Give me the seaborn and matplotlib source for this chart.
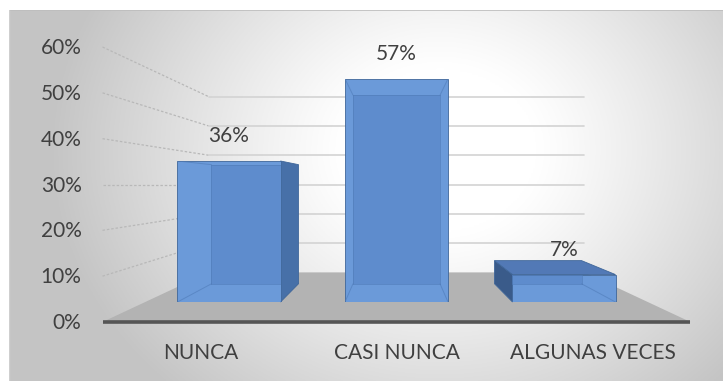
import numpy as np
import pandas as pd
import seaborn as sns
import matplotlib
matplotlib.use("Agg")
import matplotlib.pyplot as plt
from matplotlib.patches import Polygon
from matplotlib.transforms import IdentityTransform

# ---- data -------------------------------------------------------------
categories = ["NUNCA", "CASI NUNCA", "ALGUNAS VECES"]
values = [0.36, 0.57, 0.07]
value_labels = ["36%", "57%", "7%"]
y_ticks = [0.0, 0.1, 0.2, 0.3, 0.4, 0.5, 0.6]
y_tick_labels = ["0%", "10%", "20%", "30%", "40%", "50%", "60%"]

df = pd.DataFrame({"categoria": categories, "valor": values})

# ---- style ------------------------------------------------------------
sns.set_theme(style="white")
plt.rcParams["font.family"] = ["Lato", "DejaVu Sans"]

W, H, DPI = 723, 381, 100
TEXT = "#404040"
FRONT = "#6B9AD9"        # bar front face
BACK_TINT = "#5482C4"    # back face seen through the front
SIDE = "#4770A8"
SIDE_DARK = "#3A5B8A"
TOP = "#5279B6"
EDGE = "#3F6699"
FLOOR = "#B3B3B3"
GRID = "#D3D3D3"

# perspective depths (1 = bar front plane)
S_FLOOR = 1.17   # front edge of the floor / axis labels
S_BACK = 0.845   # back faces of the bars
S_WALL = 0.748   # back wall


fig = plt.figure(figsize=(W / DPI, H / DPI), dpi=DPI)
fig.patch.set_facecolor("white")

# chart area background with a soft radial gradient
bg = fig.add_axes([9 / W, 0, (W - 9) / W, (H - 10) / H])
bg.set_axis_off()
gx = np.linspace(9, W, 400)
gy = np.linspace(10, H, 220)
GX, GY = np.meshgrid(gx, gy)
d = np.sqrt(((GX - 440) / 390.0) ** 2 + ((GY - 150) / 330.0) ** 2)
level = 1.0 - 0.23 * np.clip((d - 0.25) / 0.75, 0, 1) ** 1.1
img = np.dstack([level, level, level])
bg.imshow(img, extent=[0, 1, 0, 1], aspect="auto", origin="upper",
          transform=bg.transAxes)
bg.set_xlim(0, 1)
bg.set_ylim(0, 1)
bg.plot([0, 1], [1, 1], color="#BDBDBD", lw=1.2, transform=bg.transAxes)
bg.plot([0, 0], [0, 1], color="#CFCFCF", lw=1.0, transform=bg.transAxes)

# front plane axes: 0 % at y=302 px, 60 % at y=67 px (from top)
x_left, x_right = 145.25, 647.75
y_base, y_top = 302.0, 67.0
ax = fig.add_axes([x_left / W, (H - y_base) / H,
                   (x_right - x_left) / W, (y_base - y_top) / H])
sns.barplot(data=df, x="categoria", y="valor", color=FRONT, width=0.615,
            saturation=1, ax=ax, zorder=5)
ax.set_xlim(-0.5, 2.5)
ax.set_ylim(0, 0.6)
ax.set_axis_off()

bars = list(ax.patches)
for b in bars:
    b.set_edgecolor(EDGE)
    b.set_linewidth(0.6)

tr = ax.transData
V = tr.transform((1.0, 0.30))  # vanishing point


def proj(x, y, s):
    p = tr.transform((x, y))
    return V + (p - V) * s


def poly(pts, **kw):
    p = Polygon(np.array(pts), closed=True, transform=IdentityTransform(),
                clip_on=False, **kw)
    ax.add_patch(p)
    return p


def line(p0, p1, **kw):
    ax.add_line(plt.Line2D([p0[0], p1[0]], [p0[1], p1[1]],
                           transform=IdentityTransform(), clip_on=False, **kw))


xmin, xmax = ax.get_xlim()

# back wall gridlines and the guide lines towards the axis labels
for t, lab in zip(y_ticks, y_tick_labels):
    a = proj(xmin, t, S_FLOOR)
    b = proj(xmin, t, S_WALL)
    c = proj(xmax, t, S_WALL)
    if t > 0:
        line(a, b, color="#B8B8B8", lw=0.9, ls=(0, (2, 1.5)), zorder=1)
        line(b, c, color=GRID, lw=1.2, zorder=1)
    ax.text(a[0] - 21, a[1] - 1, lab, transform=IdentityTransform(),
            ha="right", va="center", fontsize=15, color=TEXT)

# floor
poly([proj(xmin, 0, S_FLOOR), proj(xmax, 0, S_FLOOR),
      proj(xmax, 0, S_WALL), proj(xmin, 0, S_WALL)],
     facecolor=FLOOR, edgecolor="none", zorder=2)
line(proj(xmin, 0, S_FLOOR), proj(xmax, 0, S_FLOOR),
     color="#555555", lw=2.6, solid_capstyle="butt", zorder=3)

# three-dimensional faces around each bar
for b, v, lab in zip(bars, values, value_labels):
    x0, x1 = b.get_x(), b.get_x() + b.get_width()
    h = b.get_height()
    corners = {"lb": (x0, 0), "rb": (x1, 0), "lt": (x0, h), "rt": (x1, h)}
    f = {n: proj(xx, yy, 1.0) for n, (xx, yy) in corners.items()}
    k = {n: proj(xx, yy, S_BACK) for n, (xx, yy) in corners.items()}

    if f["rb"][0] < V[0]:
        poly([f["rt"], k["rt"], k["rb"], f["rb"]], facecolor=SIDE,
             edgecolor=EDGE, lw=0.6, zorder=4)
    if f["lb"][0] > V[0]:
        poly([f["lt"], k["lt"], k["lb"], f["lb"]], facecolor=SIDE_DARK,
             edgecolor=EDGE, lw=0.6, zorder=4)
    if f["lt"][1] < V[1]:
        poly([f["lt"], f["rt"], k["rt"], k["lt"]], facecolor=TOP,
             edgecolor=EDGE, lw=0.6, zorder=4)

    # back of the box showing through the translucent front
    back = poly([k["lb"], k["rb"], k["rt"], k["lt"]], facecolor=BACK_TINT,
                edgecolor="none", alpha=0.55, zorder=6)
    back.set_clip_path(b)
    back.set_clip_on(True)
    for p0, p1 in [(f["lb"], k["lb"]), (f["rb"], k["rb"]),
                   (f["lt"], k["lt"]), (f["rt"], k["rt"]),
                   (k["lb"], k["rb"]), (k["lt"], k["rt"]),
                   (k["lb"], k["lt"]), (k["rb"], k["rt"])]:
        ln = plt.Line2D([p0[0], p1[0]], [p0[1], p1[1]],
                        transform=IdentityTransform(), color="#4F7BB8",
                        lw=0.7, alpha=0.6, zorder=7)
        ax.add_line(ln)
        ln.set_clip_path(b)

    # value label above the bar
    top = proj(x0 + (x1 - x0) / 2, v, 1.0)
    ax.text(top[0], top[1] + 25, lab, transform=IdentityTransform(),
            ha="center", va="center", fontsize=15, color=TEXT, zorder=8)

# category labels under the floor edge
for i, cat in enumerate(categories):
    p = proj(i, 0, S_FLOOR)
    ax.text(p[0], p[1] - 31, cat, transform=IdentityTransform(),
            ha="center", va="center", fontsize=15, color=TEXT)

fig.savefig("out.png", dpi=DPI)
